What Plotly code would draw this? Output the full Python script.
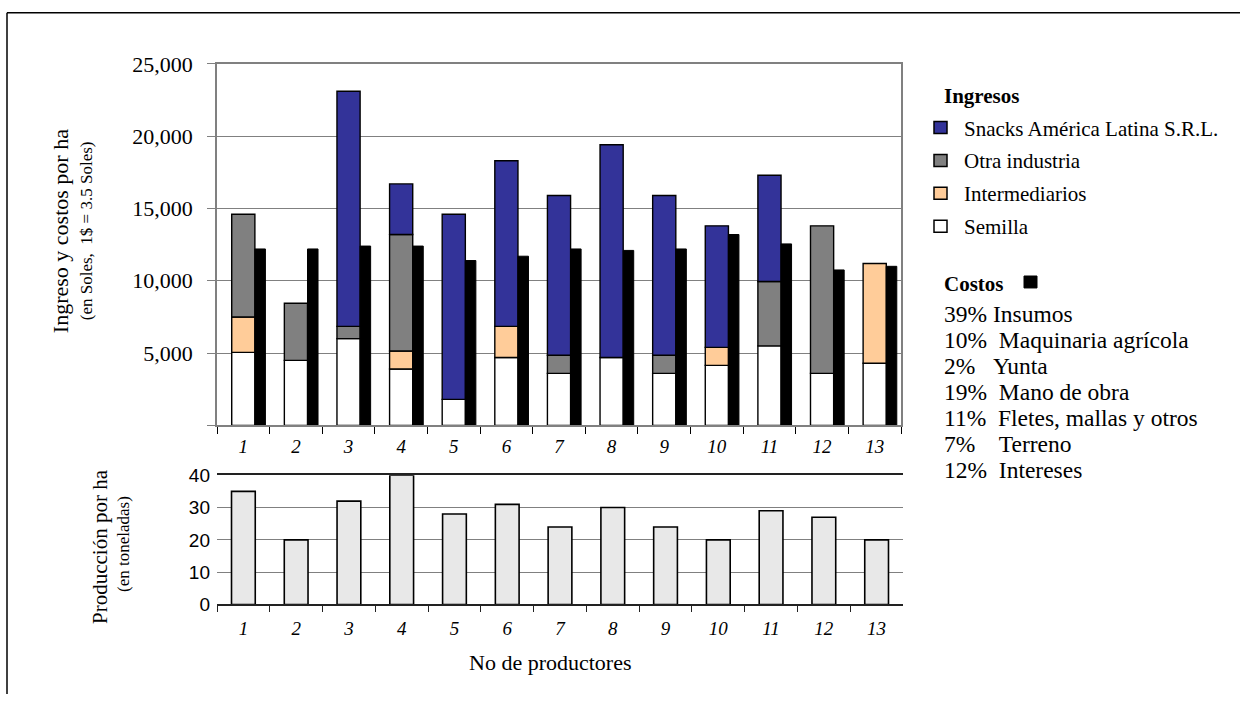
import plotly.graph_objects as go

# ---------------- data ----------------
productores = [str(i) for i in range(1, 14)]
semilla = [5050, 4500, 6000, 3900, 1800, 4700, 3600, 4700, 3600, 4150, 5500, 3600, 4300]
intermediarios = [2450, 0, 0, 1250, 0, 2150, 0, 0, 0, 1250, 0, 0, 6900]
otra_industria = [7100, 3950, 850, 8050, 0, 0, 1250, 0, 1250, 0, 4450, 10200, 0]
snacks = [0, 0, 16250, 3500, 12800, 11450, 11050, 14700, 11050, 8400, 7350, 0, 0]
costos = [12200, 12200, 12400, 12400, 11400, 11700, 12200, 12100, 12200, 13200, 12550, 10750, 11000]
produccion = [35, 20, 32, 40, 28, 31, 24, 30, 24, 20, 29, 27, 20]

ingreso_ticks = [0, 5000, 10000, 15000, 20000, 25000]
prod_ticks = [0, 10, 20, 30, 40]

serie_nombres = ["Snacks América Latina S.R.L.", "Otra industria", "Intermediarios", "Semilla"]
serie_colores = ["#333399", "#808080", "#FFCC99", "#FFFFFF"]
costos_detalle = ["39% Insumos", "10%  Maquinaria agrícola", "2%   Yunta",
                  "19%  Mano de obra", "11%  Fletes, mallas y otros",
                  "7%    Terreno", "12%  Intereses"]

# ---------------- geometry helpers ----------------
W, H = 1245, 705
SY, OY = 0.971, 11.0   # vertical calibration of the photographed page

def px(x):
    return x / W
def py(y):
    p = (y - OY) / SY
    p = min(max(p, 0.75), H)
    return 1 - p / H

SERIF = "Liberation Serif"
SANS = "Liberation Sans"

fig = go.Figure()

# cumulative bases for stacked income bars
b_inter = [s for s in semilla]
b_otra = [s + i for s, i in zip(semilla, intermediarios)]
b_snacks = [b + o for b, o in zip(b_otra, otra_industria)]

def nz(v):
    return [x if x else None for x in v]

stack = [
    ("Semilla", semilla, [0] * 13, "#FFFFFF"),
    ("Intermediarios", intermediarios, b_inter, "#FFCC99"),
    ("Otra industria", otra_industria, b_otra, "#808080"),
    ("Snacks América Latina S.R.L.", snacks, b_snacks, "#333399"),
]
for name, vals, base, col in stack:
    fig.add_trace(go.Bar(
        x=productores, y=nz(vals), base=base, name=name,
        width=0.44, offset=-0.22,
        marker=dict(color=col, line=dict(color="black", width=1.4)),
        xaxis="x", yaxis="y", showlegend=False,
    ))

fig.add_trace(go.Bar(
    x=productores, y=costos, name="Costos",
    width=0.2, offset=0.22,
    marker=dict(color="black", line=dict(color="black", width=1)),
    xaxis="x", yaxis="y", showlegend=False,
))

fig.add_trace(go.Bar(
    x=productores, y=produccion, name="Producción",
    width=0.45, offset=-0.225,
    marker=dict(color="#E8E8E8", line=dict(color="black", width=1.6)),
    xaxis="x2", yaxis="y2", showlegend=False,
))

def ital(labels):
    return ["<i>%s</i>" % l for l in labels]

fig.update_layout(
    width=W, height=H,
    margin=dict(l=0, r=0, t=0, b=0),
    paper_bgcolor="white", plot_bgcolor="white",
    barmode="overlay",
    showlegend=False,
    xaxis=dict(
        domain=[px(217), px(901)], anchor="y",
        type="category", tickvals=productores, ticktext=ital(productores),
        tickson="boundaries", ticks="outside", ticklen=7, tickcolor="black",
        showline=True, linecolor="#808080", linewidth=1.5, mirror=True,
        showgrid=False, zeroline=False,
        tickfont=dict(family=SERIF, size=19, color="black"),
        ticklabelstandoff=3,
        range=[-0.5, 12.5],
    ),
    yaxis=dict(
        domain=[py(426), py(63)], anchor="x",
        range=[0, 25000],
        tickvals=ingreso_ticks,
        ticktext=["" if v == 0 else f"{v:,}" for v in ingreso_ticks],
        ticks="outside", ticklen=8, tickcolor="#808080",
        showline=True, linecolor="#808080", linewidth=1.5, mirror=True,
        showgrid=True, gridcolor="#808080", gridwidth=1.2,
        zeroline=False,
        tickfont=dict(family=SERIF, size=22, color="black"),
        ticklabelstandoff=10,
    ),
    xaxis2=dict(
        domain=[px(217), px(903)], anchor="y2",
        type="category", tickvals=productores, ticktext=ital(productores),
        tickson="boundaries", ticks="outside", ticklen=6, tickcolor="#222",
        showline=True, linecolor="#222", linewidth=1.5, mirror=True,
        showgrid=False, zeroline=False,
        tickfont=dict(family=SERIF, size=19, color="black"),
        ticklabelstandoff=6,
        range=[-0.5, 12.5],
    ),
    yaxis2=dict(
        domain=[py(605.7), py(476)], anchor="x2",
        range=[0, 40], tickvals=prod_ticks,
        ticks="", showline=False,
        showgrid=True, gridcolor="#808080", gridwidth=1.2,
        zeroline=False,
        tickfont=dict(family=SANS, size=19, color="black"),
        ticklabelstandoff=6,
    ),
)

ann = []
def text(x, y, s, size, family=SERIF, xanchor="left", angle=0, yanchor="middle"):
    ann.append(dict(x=px(x), y=py(y), xref="paper", yref="paper", text=s,
                    showarrow=False, xanchor=xanchor, yanchor=yanchor,
                    textangle=angle, font=dict(family=family, size=size, color="black")))

# axis titles
text(60, 231, "Ingreso y costos por ha", 22, xanchor="center", angle=-90)
text(86, 231, "(en Soles,\u00a0\u00a01$ = 3.5 Soles)", 17, xanchor="center", angle=-90)
text(100, 548, "Producción por ha", 21, xanchor="center", angle=-90)
text(123, 545, "(en toneladas)", 17, xanchor="center", angle=-90)
text(550, 664, "No de productores", 22, xanchor="center")

# legend (Ingresos)
text(942, 95, "<b>Ingresos</b>", 21)
shapes = []
rows = [127, 160, 193, 226]
for name, col, yy in zip(serie_nombres, serie_colores, rows):
    shapes.append(dict(type="rect", xref="paper", yref="paper",
                       x0=px(934), x1=px(947), y0=py(yy + 6), y1=py(yy - 6),
                       fillcolor=col, line=dict(color="black", width=1.5)))
    text(962, yy + 1, name, 21)

# Costos block
text(942, 284, "<b>Costos</b>", 21)
shapes.append(dict(type="rect", xref="paper", yref="paper",
                   x0=px(1024), x1=px(1037), y0=py(288), y1=py(276),
                   fillcolor="black", line=dict(color="black", width=1)))
for k, line in enumerate(costos_detalle):
    text(942, 314 + k * 26.1, line.replace(" ", "\u00a0"), 23.5)

# outer frame (top and left edges)
shapes.append(dict(type="line", xref="paper", yref="paper",
                   x0=px(7), x1=px(1240), y0=py(8), y1=py(8),
                   line=dict(color="black", width=1.5)))
shapes.append(dict(type="line", xref="paper", yref="paper",
                   x0=px(7), x1=px(7), y0=py(8), y1=0,
                   line=dict(color="black", width=1.5)))

fig.update_layout(annotations=ann, shapes=shapes)
fig.write_html(
    "out.html",
    config={"displayModeBar": False},
    post_script=(
        "var d=document.getElementById('{plot_id}');"
        "d.style.position='fixed';d.style.top='0px';d.style.left='0px';"
        "document.body.style.margin='0px';"
        "document.documentElement.style.overflow='hidden';"
    ),
)
